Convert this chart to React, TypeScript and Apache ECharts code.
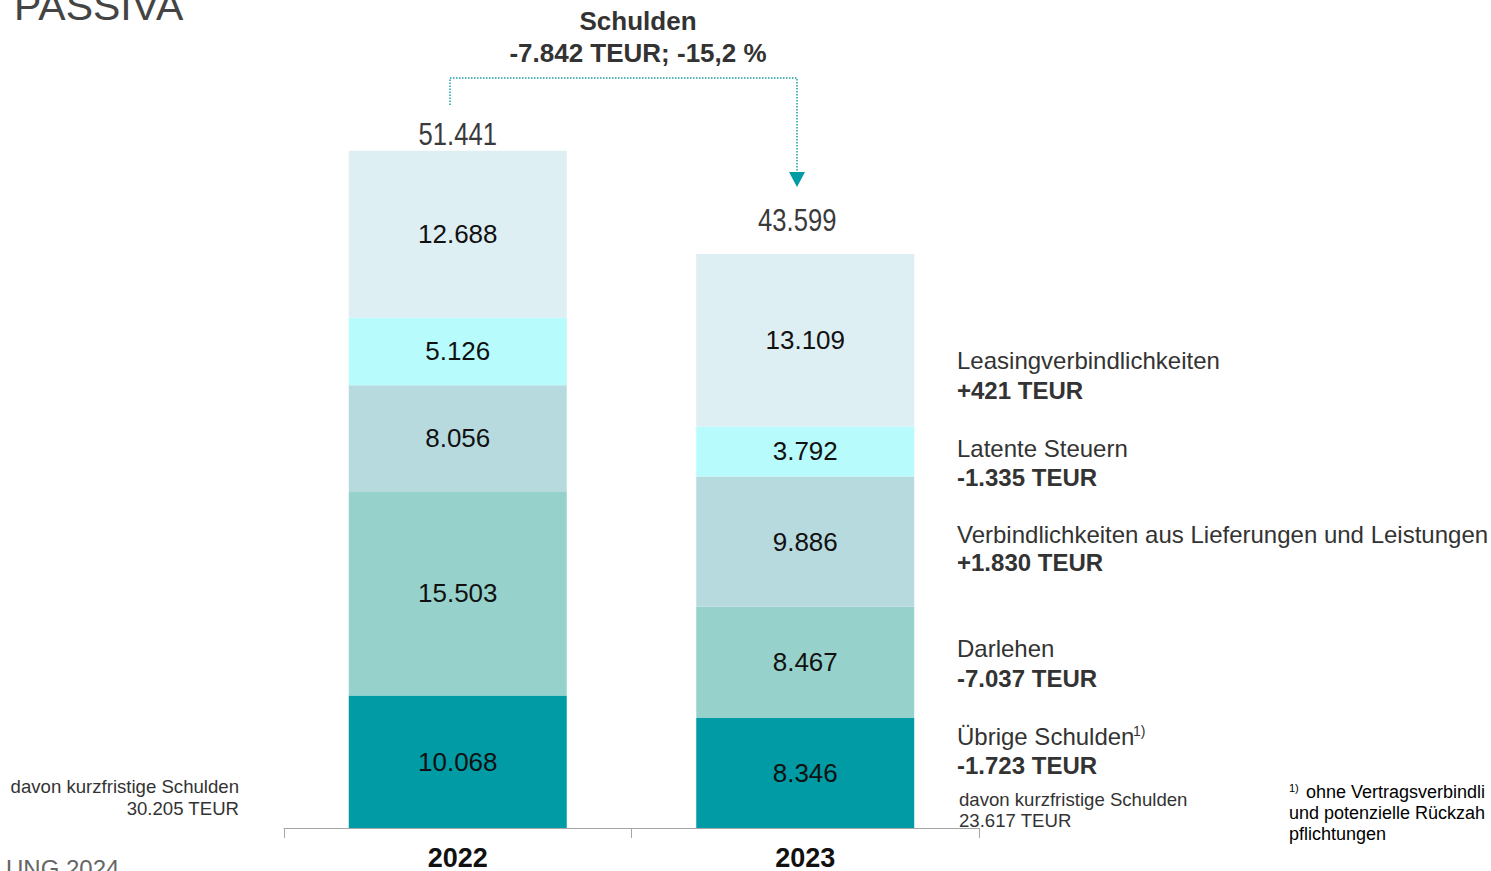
import React, { useEffect, useRef } from "react";
import * as echarts from "echarts";

const categories = ["2022", "2023"];
const uebrigeSchulden = [10068, 8346];
const darlehen = [15503, 8467];
const verbLuL = [8056, 9886];
const latenteSteuern = [5126, 3792];
const leasing = [12688, 13109];
const totals = [51441, 43599];

const seriesNames = [
  "Übrige Schulden",
  "Darlehen",
  "Verbindlichkeiten aus Lieferungen und Leistungen",
  "Latente Steuern",
  "Leasingverbindlichkeiten",
];
const seriesValues = [uebrigeSchulden, darlehen, verbLuL, latenteSteuern, leasing];
const seriesColors = ["#009BA4", "#96D2CB", "#B7DADF", "#B7FBFD", "#DEEFF3"];

const fmt = (v: number) => String(v).replace(/\B(?=(\d{3})+(?!\d))/g, ".");

const FONT = "'Liberation Sans', Arial, sans-serif";

export default function App() {
  const ref = useRef<HTMLDivElement>(null);
  useEffect(() => {
    if (!ref.current) return;
    const chart = echarts.init(ref.current, undefined, { renderer: "svg" });

    const barSeries = seriesValues.map((vals, i) => ({
      name: seriesNames[i],
      type: "bar",
      stack: "total",
      barWidth: 218,
      itemStyle: { color: seriesColors[i] },
      label: {
        show: true,
        position: "inside",
        formatter: (p: any) => fmt(p.value),
        fontFamily: FONT,
        fontSize: 26,
        color: "#111",
      },
      data: vals,
    }));

    const txt = (
      text: string,
      x: number,
      y: number,
      size: number,
      opts: any = {}
    ) => ({
      type: "text",
      x,
      y,
      silent: true,
      style: {
        text,
        fontFamily: FONT,
        fontSize: size,
        fontWeight: opts.bold ? "bold" : "normal",
        fill: opts.color || "#333",
        textAlign: opts.align || "left",
        textVerticalAlign: "middle",
      },
    });

    const teal = "#1AA0A8";

    const staticGraphics: any[] = [
      txt("PASSIVA", 14, 6, 41, { color: "#444" }),
      txt("UNG 2024", 6, 868, 24, { color: "#666" }),
      txt("Schulden", 638, 21, 26, { bold: true, align: "center" }),
      txt("-7.842 TEUR; -15,2 %", 638, 53, 26, { bold: true, align: "center" }),
      {
        type: "polyline",
        silent: true,
        shape: {
          points: [
            [450, 105],
            [450, 78],
            [797, 78],
            [797, 173],
          ],
        },
        style: { stroke: teal, lineWidth: 1.5, lineDash: [1.5, 1.5], fill: null },
      },
      {
        type: "polygon",
        silent: true,
        shape: {
          points: [
            [789, 172],
            [805, 172],
            [797, 187],
          ],
        },
        style: { fill: "#009BA4" },
      },
      txt("Leasingverbindlichkeiten", 957, 360, 24),
      txt("+421 TEUR", 957, 390, 24, { bold: true }),
      txt("Latente Steuern", 957, 448, 24),
      txt("-1.335 TEUR", 957, 477, 24, { bold: true }),
      txt("Verbindlichkeiten aus Lieferungen und Leistungen", 957, 534, 24),
      txt("+1.830 TEUR", 957, 562, 24, { bold: true }),
      txt("Darlehen", 957, 648, 24),
      txt("-7.037 TEUR", 957, 678, 24, { bold: true }),
      txt("Übrige Schulden", 957, 736, 24),
      txt("1)", 1133, 731, 14),
      txt("-1.723 TEUR", 957, 765, 24, { bold: true }),
      txt("davon kurzfristige Schulden", 959, 799, 18.6),
      txt("23.617 TEUR", 959, 820, 18.6),
      txt("davon kurzfristige Schulden", 239, 786, 18.6, { align: "right" }),
      txt("30.205 TEUR", 239, 808, 18.6, { align: "right" }),
      txt("1)", 1289, 788, 11, { color: "#000" }),
      txt("ohne Vertragsverbindli", 1306, 792, 18, { color: "#000" }),
      txt("und potenzielle Rückzah", 1289, 813, 18, { color: "#000" }),
      txt("pflichtungen", 1289, 834, 18, { color: "#000" }),
    ];

    const option: any = {
      animation: false,
      backgroundColor: "#fff",
      grid: { left: 284, right: 512, top: 38, bottom: 42, containLabel: false },
      xAxis: {
        type: "category",
        data: categories,
        axisLine: { show: true, lineStyle: { color: "#A6A6A6", width: 1 } },
        axisTick: { show: true, length: 10, lineStyle: { color: "#A6A6A6" } },
        axisLabel: {
          fontFamily: FONT,
          fontSize: 27,
          fontWeight: "bold",
          color: "#111",
          margin: 16,
        },
      },
      yAxis: {
        type: "value",
        min: 0,
        max: 60000,
        show: false,
        splitLine: { show: false },
      },
      series: barSeries,
      graphic: staticGraphics,
    };

    chart.setOption(option);

    // Totals above the stacks, positioned through the chart's own scales
    const totalShift = [
      [0, -17],
      [-8, -34],
    ];
    const totalGraphics = totals.map((v, i) => {
      const pt = chart.convertToPixel({ gridIndex: 0 }, [i, v]) as number[];
      return {
        type: "text",
        x: pt[0] + totalShift[i][0],
        y: pt[1] + totalShift[i][1],
        scaleX: 0.8,
        silent: true,
        style: {
          text: fmt(v),
          fontFamily: FONT,
          fontSize: 32,
          fill: "#3A3A3A",
          textAlign: "center",
          textVerticalAlign: "middle",
        },
      };
    });
    chart.setOption({ graphic: [...staticGraphics, ...totalGraphics] });

    return () => chart.dispose();
  }, []);

  return (
    <div
      ref={ref}
      style={{ position: "absolute", left: 0, top: 0, width: 1491, height: 871, overflow: "hidden" }}
    />
  );
}
